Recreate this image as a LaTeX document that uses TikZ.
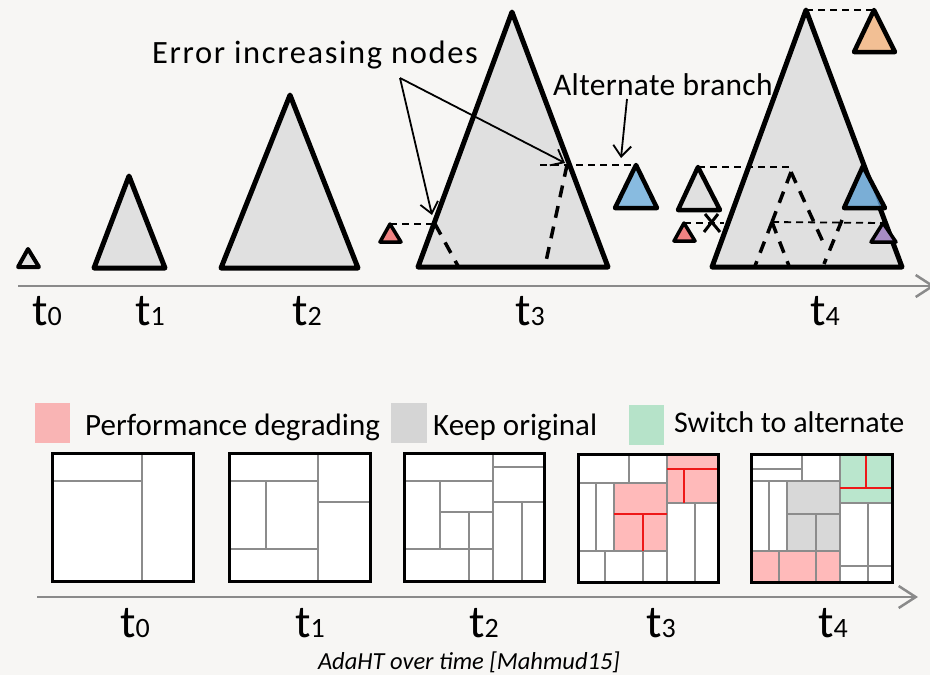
\documentclass[tikz,border=0pt]{standalone}
\usepackage{fontspec}
\setmainfont{Carlito}
\usetikzlibrary{arrows.meta}

\definecolor{bgc}{RGB}{247,246,244}
\definecolor{trifill}{RGB}{224,224,224}
\definecolor{axisc}{RGB}{138,138,138}
\definecolor{gridc}{RGB}{140,140,140}
\definecolor{degrade}{RGB}{255,186,186}
\definecolor{keepc}{RGB}{216,216,216}
\definecolor{switchc}{RGB}{186,230,205}
\definecolor{legpink}{RGB}{249,180,180}
\definecolor{leggray}{RGB}{213,213,213}
\definecolor{leggreen}{RGB}{182,227,201}
\definecolor{redc}{RGB}{238,24,24}
\definecolor{salmon}{RGB}{239,130,130}
\definecolor{bluea}{RGB}{136,187,224}
\definecolor{blueb}{RGB}{122,174,214}
\definecolor{bluedark}{RGB}{78,128,172}
\definecolor{orangec}{RGB}{242,191,148}
\definecolor{purplec}{RGB}{168,140,196}

\newcommand{\timelab}[1]{{\fontsize{46}{46}\selectfont t\fontsize{28}{28}\selectfont #1}}

\tikzset{
  tree/.style={draw=black, line width=5pt, fill=trifill, line join=round},
  subtree/.style={draw=black, line width=4.5pt, line join=round},
  levelline/.style={draw=black, line width=1.8pt, dash pattern=on 7pt off 5pt},
  branchline/.style={draw=black, line width=3.5pt, dash pattern=on 12pt off 9pt},
  timeaxis/.style={draw=axisc, line width=2.5pt, -{Straight Barb[length=17pt,width=22pt]}},
  callout/.style={draw=black, line width=1.8pt, -{Straight Barb[length=11pt,width=18pt]}},
  grid/.style={draw=gridc, line width=1.6pt},
  split/.style={draw=redc, line width=1.8pt},
  frame/.style={draw=black, line width=3pt},
  lbl/.style={inner sep=0pt, anchor=base west, font=\fontsize{31}{31}\selectfont},
  tick/.style={inner sep=0pt, anchor=base},
}

\begin{document}
\begin{tikzpicture}[x=1pt,y=-1pt]
\fill[bgc] (0,0) rectangle (930,675);
\useasboundingbox (0,0) rectangle (930,675);

% ---------- tree growth over time ----------
\draw[timeaxis] (18,286) -- (935,286);

\draw[tree, line width=4pt] (28,249) -- (39,267) -- (18,267) -- cycle;
\draw[tree] (129,176) -- (165,268) -- (94,268) -- cycle;
\draw[tree] (290,95) -- (358,268) -- (221,268) -- cycle;

% t3 tree with the two error-increasing nodes
\draw[tree] (512,12) -- (608,267) -- (418,267) -- cycle;
\coordinate (n3a) at (435,224);
\coordinate (n3b) at (567,165);
\draw[branchline] (n3a) -- (458,266);
\draw[branchline] (n3b) -- (545,266);
\coordinate (p3) at (390,224);
\coordinate (b3) at (636,165);
\draw[levelline] (p3) -- (n3a);
\draw[levelline] (540,165) -- (b3);
\draw[subtree, line width=3.5pt, fill=salmon] (p3) -- (401,242) -- (380,242) -- cycle;
\draw[subtree, fill=bluea] (b3) -- (657,208) -- (615,208) -- cycle;

% t4 tree with its alternate branches
\draw[tree] (806,10) -- (902,267) -- (712,267) -- cycle;
\coordinate (r4) at (806,10);
\coordinate (o4) at (874,10);
\draw[levelline] (r4) -- (o4);
\draw[subtree, fill=orangec] (o4) -- (895,52) -- (854,52) -- cycle;

\coordinate (g4) at (698,167);
\coordinate (u4) at (791,167);
\coordinate (v4) at (772,222);
\coordinate (q4) at (883,223);
\coordinate (k4) at (684,223);
\draw[levelline] (g4) -- (u4);
\draw[levelline] (v4) -- (q4);
\draw[levelline] (k4) -- (724,223);
\draw[branchline] (791,172) -- (v4);
\draw[branchline] (791,172) -- (823,242);
\draw[branchline] (v4) -- (755,266);
\draw[branchline] (v4) -- (789,266);
\draw[branchline] (842,220) -- (824,264);

\draw[subtree, fill=trifill] (g4) -- (720,210) -- (678,210) -- cycle;
\draw[black, line width=3pt] (705,214) -- (720,232);
\draw[black, line width=3pt] (704,232) -- (718,214);
\draw[subtree, line width=3.5pt, fill=salmon] (k4) -- (695,241) -- (674,241) -- cycle;

\fill[blueb] (863,166) -- (885,208) -- (844,208) -- cycle;
\begin{scope}
  \clip (806,10) -- (902,267) -- (930,267) -- (930,0) -- cycle;
  \fill[bluedark] (863,166) -- (885,208) -- (844,208) -- cycle;
\end{scope}
\draw[subtree] (863,166) -- (885,208) -- (844,208) -- cycle;
\draw[subtree, line width=3.5pt, fill=purplec] (q4) -- (896,242) -- (871,242) -- cycle;

% callouts
\node[inner sep=0pt, anchor=base west, font=\fontsize{32.5}{32.5}\selectfont\addfontfeature{LetterSpace=5}] (errtxt) at (152,63) {Error increasing nodes};
\coordinate (errsrc) at (400,78);
\coordinate (errend1) at (432,215);
\coordinate (errend2) at (565,163);
\draw[callout] (errsrc) -- (errend1);
\draw[callout] (errsrc) -- (errend2);

\node[inner sep=0pt, anchor=base west, font=\fontsize{31.5}{31.5}\selectfont\addfontfeature{LetterSpace=1}] (alttxt) at (553,95) {Alternate branch};
\coordinate (altsrc) at (627,99);
\coordinate (altend) at (621,158);
\draw[callout] (altsrc) -- (altend);

\node[tick] (ta0) at (47,325) {\timelab{0}};
\node[tick] (ta1) at (150,325) {\timelab{1}};
\node[tick] (ta2) at (307,325) {\timelab{2}};
\node[tick] (ta3) at (530,325) {\timelab{3}};
\node[tick] (ta4) at (825,325) {\timelab{4}};

% ---------- legend ----------
\fill[legpink] (35,403) rectangle (70,443);
\node[lbl] (leg1) at (85,435) {Performance degrading};
\fill[leggray] (391,403) rectangle (427,443);
\node[lbl] (leg2) at (433,435) {Keep original};
\fill[leggreen] (629,405) rectangle (664,445);
\node[lbl, font=\fontsize{30}{30}\selectfont] (leg3) at (674,432) {Switch to alternate};

% ---------- partitions of the instance space ----------
% t0
\fill[white] (52,453) rectangle (193,581);
\draw[grid] (142,453) -- (142,581);
\draw[grid] (52,481) -- (142,481);
\draw[frame] (52,453) rectangle (193,581);

% t1
\fill[white] (229,453) rectangle (370,581);
\draw[grid] (318,453) -- (318,581);
\draw[grid] (229,481) -- (318,481);
\draw[grid] (266,481) -- (266,549);
\draw[grid] (229,549) -- (318,549);
\draw[grid] (318,502) -- (370,502);
\draw[frame] (229,453) rectangle (370,581);

% t2
\fill[white] (404,453) rectangle (544,581);
\draw[grid] (493,453) -- (493,581);
\draw[grid] (493,467) -- (544,467);
\draw[grid] (404,481) -- (493,481);
\draw[grid] (493,502) -- (544,502);
\draw[grid] (440,481) -- (440,549);
\draw[grid] (440,512) -- (493,512);
\draw[grid] (469,512) -- (469,581);
\draw[grid] (404,549) -- (493,549);
\draw[grid] (522,502) -- (522,581);
\draw[frame] (404,453) rectangle (544,581);

% t3
\fill[white] (578,454) rectangle (718,582);
\fill[degrade] (667,454) rectangle (718,503);
\fill[degrade] (614,483) rectangle (667,551);
\draw[grid] (629,454) -- (629,483);
\draw[grid] (667,454) -- (667,582);
\draw[grid] (578,483) -- (667,483);
\draw[grid] (596,483) -- (596,551);
\draw[grid] (614,483) -- (614,551);
\draw[grid] (578,551) -- (667,551);
\draw[grid] (605,551) -- (605,582);
\draw[grid] (643,551) -- (643,582);
\draw[grid] (667,503) -- (718,503);
\draw[grid] (695,503) -- (695,582);
\draw[split] (667,469) -- (718,469);
\draw[split] (684,469) -- (684,503);
\draw[split] (614,514) -- (667,514);
\draw[split] (643,514) -- (643,551);
\draw[frame] (578,454) rectangle (718,582);

% t4
\fill[white] (751,454) rectangle (892,582);
\fill[switchc] (840,454) rectangle (892,503);
\fill[keepc] (787,481) rectangle (840,551);
\fill[degrade] (751,551) rectangle (840,582);
\draw[grid] (802,454) -- (802,481);
\draw[grid] (840,454) -- (840,582);
\draw[grid] (751,469) -- (802,469);
\draw[grid] (751,481) -- (840,481);
\draw[grid] (769,481) -- (769,551);
\draw[grid] (787,481) -- (787,551);
\draw[grid] (787,514) -- (840,514);
\draw[grid] (816,514) -- (816,582);
\draw[grid] (779,551) -- (779,582);
\draw[grid] (751,551) -- (840,551);
\draw[grid] (840,503) -- (892,503);
\draw[grid] (868,503) -- (868,582);
\draw[grid] (840,566) -- (892,566);
\draw[split] (866,454) -- (866,488);
\draw[split] (840,488) -- (892,488);
\draw[frame] (751,454) rectangle (892,582);

\draw[timeaxis] (37,597) -- (918,597);

\node[tick] (tb0) at (135,637) {\timelab{0}};
\node[tick] (tb1) at (310,637) {\timelab{1}};
\node[tick] (tb2) at (484,637) {\timelab{2}};
\node[tick] (tb3) at (661,637) {\timelab{3}};
\node[tick] (tb4) at (833,637) {\timelab{4}};

\node[inner sep=0pt, anchor=base, font=\fontsize{24.5}{24.5}\selectfont\itshape] (cap) at (469,669) {AdaHT over time [Mahmud15]};
\end{tikzpicture}
\end{document}
